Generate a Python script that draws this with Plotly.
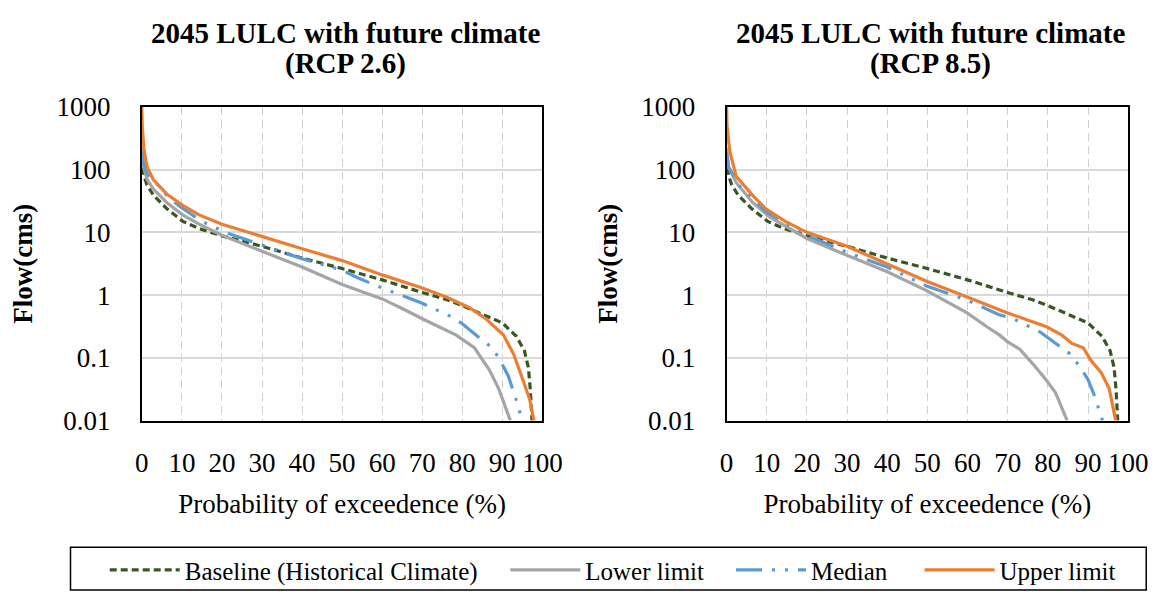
import plotly.graph_objects as go

# ---------------- data ----------------
# Baseline (historical climate) – same series in both panels
base_x = [0, 0.5, 1.3, 2.9, 6.2, 10.2, 14.3, 20, 30, 40, 50, 60, 70, 76, 80, 85, 90, 93.5, 95.5, 96.5, 97.0, 97.4]
base_y = [160, 80, 57, 39, 24, 15, 11.5, 8.8, 6, 3.9, 2.65, 1.75, 1.1, 0.85, 0.68, 0.5, 0.36, 0.22, 0.13, 0.07, 0.03, 0.01]

# RCP 2.6
l26_x = [0, 0.5, 1.3, 2.9, 6.2, 10.2, 14.3, 20, 30, 40, 50, 60, 65.5, 70, 78.5, 83, 86.7, 89.1, 92]
l26_y = [220, 110, 70, 49, 30, 19, 13.5, 9, 5, 2.8, 1.48, 0.87, 0.59, 0.42, 0.23, 0.145, 0.065, 0.032, 0.01]
m26_x = [0, 0.5, 1.3, 2.9, 6.2, 9.4, 15, 20.8, 30, 40, 50, 54, 60, 70, 77, 80, 84.6, 87.5, 89.5, 91.5, 93.2, 94.4, 95]
m26_y = [190, 120, 85, 69, 39, 26, 15, 10, 6.3, 3.8, 2.5, 1.87, 1.3, 0.74, 0.46, 0.35, 0.2, 0.145, 0.09, 0.051, 0.024, 0.013, 0.01]
u26_x = [0, 0.1, 0.5, 1.3, 2.9, 6.2, 10.2, 14.3, 20, 30, 40, 50, 60, 70, 76, 81.8, 85.9, 90.3, 92.8, 94.8, 96.8, 97.9]
u26_y = [1000, 500, 220, 110, 69, 41, 27, 19, 13.5, 8.5, 5.5, 3.55, 2.1, 1.3, 0.93, 0.63, 0.42, 0.23, 0.115, 0.051, 0.022, 0.01]

# RCP 8.5
l85_x = [0, 0.5, 2.4, 6.5, 10.5, 14.6, 20, 30, 40, 49.8, 59.9, 64.9, 68, 70, 73, 76.2, 79.5, 81.9, 83.5, 84.8]
l85_y = [220, 110, 62, 30, 18, 12.6, 8, 4.3, 2.36, 1.18, 0.52, 0.31, 0.23, 0.18, 0.137, 0.081, 0.045, 0.028, 0.016, 0.01]
m85_x = [0, 0.5, 3.2, 6.5, 9.7, 14.6, 20, 30, 40, 49.8, 59.9, 67.7, 71.4, 78, 81.9, 85.6, 88, 90, 91.6, 93.3, 93.6]
m85_y = [190, 110, 55, 35, 21.5, 14.4, 9, 4.8, 2.8, 1.4, 0.83, 0.49, 0.42, 0.26, 0.17, 0.115, 0.072, 0.045, 0.025, 0.012, 0.01]
u85_x = [0, 0.1, 0.8, 2.4, 6.5, 9.7, 14.6, 20, 30, 40, 49.8, 59.9, 70, 79.8, 83.5, 86, 88.8, 90.8, 93.3, 95.3, 96.1, 96.9]
u85_y = [1000, 500, 195, 78, 39, 24, 15, 10, 6, 3.16, 1.66, 0.93, 0.52, 0.31, 0.23, 0.17, 0.145, 0.09, 0.058, 0.032, 0.018, 0.01]

series_names = ["Baseline (Historical Climate)", "Lower limit", "Median", "Upper limit"]
panel_titles = [("2045 LULC with future climate", "(RCP 2.6)"),
                ("2045 LULC with future climate", "(RCP 8.5)")]
x_ticks = [0, 10, 20, 30, 40, 50, 60, 70, 80, 90, 100]
y_ticks = [0.01, 0.1, 1, 10, 100, 1000]
y_ticktext = ["0.01", "0.1", "1", "10", "100", "1000"]

# ---------------- styling ----------------
W, H = 1176, 606
FONT = "'Liberation Serif', Tinos, 'Times New Roman', 'DejaVu Serif', serif"
styles = [
    dict(color="#385723", width=3.2, dash="7px,4px"),
    dict(color="#A5A5A5", width=3.2, dash="solid"),
    dict(color="#5B9BD5", width=3.2, dash="26px,10px,3px,10px,3px,10px"),
    dict(color="#ED7D31", width=3.2, dash="solid"),
]

fig = go.Figure()
panels = [
    ("x", "y", [(base_x, base_y), (l26_x, l26_y), (m26_x, m26_y), (u26_x, u26_y)]),
    ("x2", "y2", [(base_x, base_y), (l85_x, l85_y), (m85_x, m85_y), (u85_x, u85_y)]),
]
legend_ids = ["legend", "legend2", "legend3", "legend4"]
for p, (xa, ya, data) in enumerate(panels):
    for i, (xs, ys) in enumerate(data):
        fig.add_trace(go.Scatter(
            x=xs, y=ys, mode="lines", name=series_names[i],
            line=styles[i], xaxis=xa, yaxis=ya,
            showlegend=(p == 0), legend=legend_ids[i],
            hoverinfo="skip"))

def px_x(v):
    return v / W

def px_y(v):
    return 1 - v / H

left_dom = [px_x(138), px_x(548)]
right_dom = [px_x(736.5), px_x(1147.5)]
y_dom = [px_y(426.7), px_y(96.7)]

axis_common_x = dict(
    range=[0, 100], tickmode="array", tickvals=x_ticks,
    showgrid=True, gridcolor="#D0D0D0", gridwidth=1.4, griddash="8px,5px",
    showline=True, linecolor="black", linewidth=1.8, mirror=True,
    ticks="", ticklabelstandoff=17, zeroline=False,
    tickfont=dict(family=FONT, size=27, color="black"),
    title=dict(text="Probability of exceedence (%)", standoff=17,
               font=dict(family=FONT, size=27, color="black")),
)
axis_common_y = dict(
    type="log", range=[-2, 3], tickmode="array", tickvals=y_ticks, ticktext=y_ticktext,
    showgrid=True, gridcolor="#D9D9D9", gridwidth=1.6,
    showline=True, linecolor="black", linewidth=1.8, mirror=True,
    ticks="", ticklabelstandoff=24, zeroline=False,
    tickfont=dict(family=FONT, size=27, color="black"),
    title=dict(text="<b>Flow(cms)</b>", standoff=16,
               font=dict(family=FONT, size=27, color="black")),
    domain=y_dom,
)

fig.update_layout(
    width=W, height=H, margin=dict(l=0, r=0, t=0, b=0),
    paper_bgcolor="white", plot_bgcolor="white",
    font=dict(family=FONT, color="black"),
    xaxis={**axis_common_x, "domain": left_dom, "anchor": "y"},
    yaxis={**axis_common_y, "anchor": "x"},
    xaxis2={**axis_common_x, "domain": right_dom, "anchor": "y2"},
    yaxis2={**axis_common_y, "anchor": "x2"},
)

# legends: one entry each, positioned along the bottom box
leg_x_px = [100, 510, 741, 934]
for lid, lx in zip(legend_ids, leg_x_px):
    fig.update_layout({lid: dict(
        x=px_x(lx), y=px_y(584), xanchor="left", yanchor="middle",
        orientation="h", bgcolor="rgba(0,0,0,0)", borderwidth=0,
        itemwidth=70,
        font=dict(family=FONT, size=25, color="black"),
        itemclick=False, itemdoubleclick=False,
    )})

# legend frame
fig.add_shape(type="rect", xref="paper", yref="paper",
              x0=px_x(65), x1=px_x(1166), y0=px_y(605), y1=px_y(560),
              line=dict(color="black", width=1.5), fillcolor="rgba(0,0,0,0)")

# panel titles
for (l1, l2), cx in zip(panel_titles, [346.5, 945.5]):
    fig.add_annotation(text=f"<b>{l1}</b>", x=px_x(cx), y=px_y(19), xref="paper", yref="paper",
                       showarrow=False, xanchor="center", yanchor="middle",
                       font=dict(family=FONT, size=29, color="black"))
    fig.add_annotation(text=f"<b>{l2}</b>", x=px_x(cx), y=px_y(51), xref="paper", yref="paper",
                       showarrow=False, xanchor="center", yanchor="middle",
                       font=dict(family=FONT, size=29, color="black"))

fig.write_html("out.html")
